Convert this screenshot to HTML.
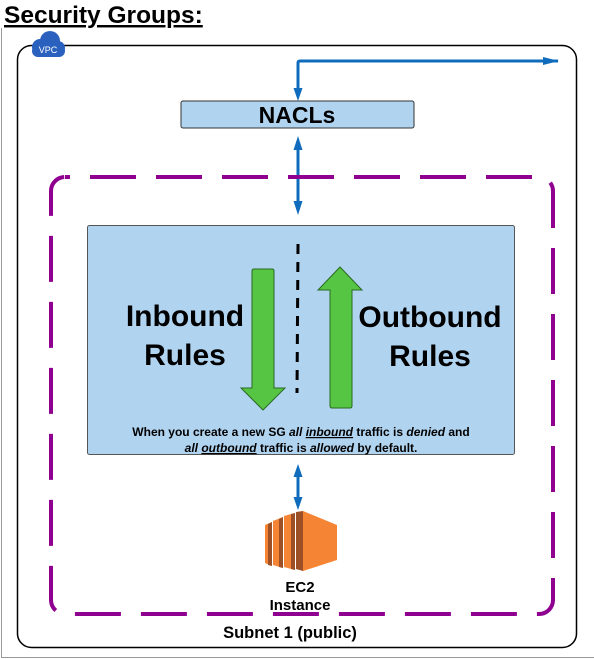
<!DOCTYPE html>
<html><head><meta charset="utf-8"><style>
html,body{margin:0;padding:0;background:#fff;width:594px;height:659px;overflow:hidden}
svg{display:block;font-family:"Liberation Sans",Arial,sans-serif}
</style></head><body>
<svg width="594" height="659" viewBox="0 0 594 659">
<defs>
<marker id="ahs" markerWidth="16" markerHeight="8" refX="15" refY="4" orient="auto" markerUnits="userSpaceOnUse">
<path d="M0,0 L16,4 L0,8 Z" fill="#0f6cbd"/></marker>
</defs>
<path d="M1.5,28 V657.5 H594" fill="none" stroke="#999" stroke-width="1"/>
<text x="4" y="23" font-size="24.5" font-weight="bold" fill="#000" text-decoration="underline">Security Groups:</text>
<!-- VPC -->
<rect x="17.5" y="45.5" width="559" height="602" rx="14" fill="none" stroke="#000" stroke-width="1.5"/>
<g fill="#2a61bf">
<circle cx="40" cy="47" r="8"/><circle cx="50" cy="41" r="10"/><circle cx="58" cy="48" r="7"/>
<rect x="32" y="45" width="33" height="12" rx="6"/>
</g>
<text x="48" y="53" font-size="9" fill="#fff" text-anchor="middle">VPC</text>
<path d="M298,95 V63 Q298,61 300,61 H558" fill="none" stroke="#0f6cbd" stroke-width="3" marker-end="url(#ahs)"/>
<path d="M293.5,88 L298,101 L302.5,88 Z" fill="#0f6cbd"/>
<rect x="181" y="101" width="233" height="27" rx="2" fill="#b0d3f0" stroke="#333" stroke-width="1"/>
<text x="297" y="123" font-size="23" font-weight="bold" text-anchor="middle">NACLs</text>
<line x1="298" y1="146" x2="298" y2="205" stroke="#0f6cbd" stroke-width="3"/>
<path d="M293.5,150 L298,136 L302.5,150 Z M293.5,201 L298,215 L302.5,201 Z" fill="#0f6cbd"/>
<rect x="51" y="177" width="502" height="437" rx="14" fill="none" stroke="#900090" stroke-width="4" stroke-dasharray="46,20" stroke-dashoffset="-25"/>
<rect x="87.5" y="225.5" width="427" height="229" rx="2" fill="#b0d3f0" stroke="#555" stroke-width="1"/>
<line x1="298" y1="244" x2="297" y2="393" stroke="#000" stroke-width="3" stroke-dasharray="10,8"/>
<path d="M252,271 Q252,269 254,269 H272 Q274,269 274,271 V388 H285 L263,410 L241,388 H252 Z" fill="#57c544" stroke="#2a6a20" stroke-width="1"/>
<path d="M330,406 V290 H318 L340,267 L362,290 H352 V406 Q352,408 350,408 H332 Q330,408 330,406 Z" fill="#57c544" stroke="#2a6a20" stroke-width="1"/>
<g font-size="30" font-weight="bold" text-anchor="middle">
<text x="185" y="326">Inbound</text><text x="185" y="365">Rules</text>
<text x="430" y="327">Outbound</text><text x="430" y="366">Rules</text>
</g>
<g font-size="12" font-weight="bold" text-anchor="middle">
<text x="301" y="436">When you create a new SG <tspan font-style="italic">all</tspan> <tspan font-style="italic" text-decoration="underline">inbound</tspan> traffic is <tspan font-style="italic">denied</tspan> and</text>
<text x="301" y="452"><tspan font-style="italic">all</tspan> <tspan font-style="italic" text-decoration="underline">outbound</tspan> traffic is <tspan font-style="italic">allowed</tspan> by default.</text>
</g>
<line x1="298" y1="472" x2="298" y2="502" stroke="#0f6cbd" stroke-width="3"/>
<path d="M293.5,477 L298,464 L302.5,477 Z M293.5,497 L298,510 L302.5,497 Z" fill="#0f6cbd"/>
<g>
<path d="M265,525 L272,522 V566 L265,563 Z" fill="#f58534"/>
<path d="M268,524 L272,522 V566 L268,565 Z" fill="#9d5025"/>
<path d="M273,521 L283,517 V568 L273,565 Z" fill="#f58534"/>
<path d="M279,519 L283,517 V568 L279,567 Z" fill="#9d5025"/>
<path d="M284,516 L295,513 V570 L284,567 Z" fill="#f58534"/>
<path d="M291,514 L295,513 V570 L291,569 Z" fill="#9d5025"/>
<path d="M296,512 L303,511 V571 L296,569 Z" fill="#9d5025"/>
<path d="M303,511 L337,525 V560 L303,571 Z" fill="#f58534"/>
</g>
<g font-size="15" font-weight="bold" text-anchor="middle">
<text x="300" y="592">EC2</text><text x="300" y="610">Instance</text>
</g>
<text x="290" y="638" font-size="16.5" font-weight="bold" text-anchor="middle">Subnet 1 (public)</text>
</svg>
</body></html>
